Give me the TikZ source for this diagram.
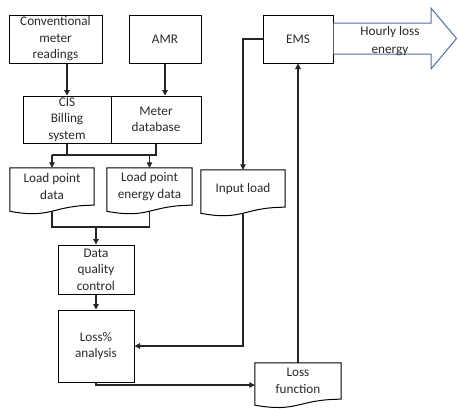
\documentclass[tikz,border=0pt]{standalone}
\usepackage{fontspec}
\setmainfont{Carlito}
\usetikzlibrary{arrows.meta,calc}
\pgfdeclarelayer{bg}
\pgfsetlayers{bg,main}
\definecolor{txt}{HTML}{2a2a2a}
\definecolor{bigarrow}{HTML}{4F6FA3}
\tikzset{
  box/.style={draw=black, line width=1pt, inner sep=0pt, align=center, text=txt,
    font=\fontsize{13.2}{16.5}\selectfont},
  docnode/.style={inner sep=0pt, align=center, text=txt,
    font=\fontsize{13.2}{16.5}\selectfont},
  docline/.style={draw=black, line width=1pt, fill=white},
  conn/.style={draw=black!85, line width=1.2pt},
  arr/.style={conn, -{Triangle[length=5.5pt,width=5.5pt]}},
  lbl/.style={inner sep=0pt, align=center, text=txt, font=\fontsize{13.2}{18}\selectfont}
}
% #1 node name, #2 full height of document shape
\newcommand{\docoutline}[2]{%
  \draw[docline] (#1.north west) -- (#1.north east) -- (#1.south east)
    .. controls ($(#1.south east)!.5!(#1.south west)$)
       and ($($(#1.south east)!.5!(#1.south west)$)+(0,0.305*#2)$) ..
    ($(#1.south west)+(0,0.132*#2)$) -- cycle;}
\begin{document}
\begin{tikzpicture}[x=1pt,y=-1pt]
\useasboundingbox (0,0) rectangle (458,408);
% boxes
\node[box, minimum width=93pt, minimum height=48pt] (conv) at (55.5,39) {Conventional\\meter\\readings};
\node[box, minimum width=72pt, minimum height=48pt] (amr) at (165,39) {AMR};
\node[box, minimum width=88pt, minimum height=47pt] (cis) at (67,119.5) {CIS\\Billing\\system};
\node[box, minimum width=90pt, minimum height=47pt] (mdb) at (156,119.5) {Meter\\database};
\node[box, minimum width=76pt, minimum height=49pt] (dqc) at (96,269.5) {Data\\quality\\control};
\node[box, minimum width=76pt, minimum height=72pt] (loss) at (96,346) {Loss\%\\analysis};
\node[box, minimum width=70pt, minimum height=48pt] (ems) at (298,39) {EMS};
% document shapes (height 46 -> straight part 37)
\node[docnode, minimum width=84pt, minimum height=37pt] (lpd) at (52,186.5) {};
\node[docnode, minimum width=85pt, minimum height=37pt] (lpe) at (149.5,186.5) {};
\node[docnode, minimum width=84pt, minimum height=37pt] (inp) at (243,188.5) {};
\node[docnode, minimum width=86pt, minimum height=36pt] (lf) at (298,381) {};
\docoutline{lpd}{46}
\docoutline{lpe}{46}
\docoutline{inp}{46}
\docoutline{lf}{45}
\node[docnode] at (lpd) {Load point\\data};
\node[docnode] at (lpe) {Load point\\energy data};
\node[docnode] at (inp) {Input load};
\node[docnode] at (lf) {Loss\\function};
% big output arrow
\draw[bigarrow, line width=1pt, fill=white]
  (ems.east |- 0,23) -- (431,23) -- (431,8) -- (456.5,38.5) -- (431,69) -- (431,54) -- (ems.east |- 0,54);
\node[lbl] (hle) at (390,41) {Hourly loss\\energy};
% connectors
\coordinate (jl) at (52,155);
\coordinate (lfin) at ($(lf.west)+(0,4)$);
\coordinate (jb) at (52,227);
\begin{pgfonlayer}{bg}
\draw[arr] (cis.north |- conv.south) -- (cis.north);
\draw[arr] (amr.south) -- (amr.south |- mdb.north);
\draw[conn] (cis.south) -- (cis.south |- jl);
\draw[conn] (mdb.south) -- (mdb.south |- jl) -- (jl);
\draw[arr] (jl) -- (lpd.north);
\draw[arr] (lpe.north |- jl) -- (lpe.north);
\draw[conn] (lpd.south) -- (jb) -- (jb -| lpe.south) -- (lpe.south);
\draw[arr] (jb -| dqc.north) -- (dqc.north);
\draw[arr] (dqc.south) -- (loss.north);
\draw[arr] (inp.south) -- (inp.south |- loss.east) -- (loss.east);
\draw[arr] (loss.south) |- (lfin);
\draw[arr] (lf.north) -- (ems.south);
\draw[arr] (ems.west) -| (inp.north);
\end{pgfonlayer}
\end{tikzpicture}
\end{document}
